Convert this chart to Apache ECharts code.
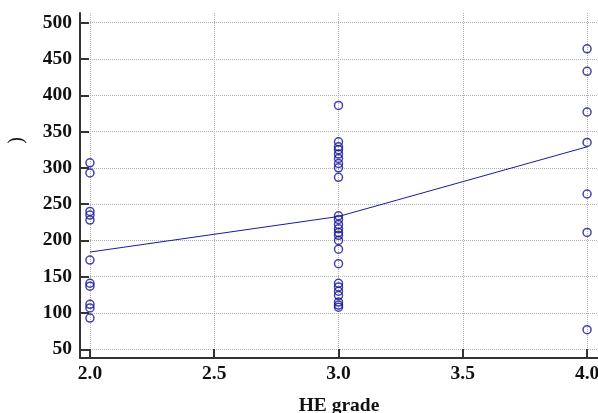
<!DOCTYPE html>
<html>
<head>
<meta charset="utf-8">
<script src="https://cdn.jsdelivr.net/npm/echarts@6/dist/echarts.min.js"></script>
<style>html,body{margin:0;padding:0;background:#fff;}#c{width:598px;height:413px;}</style>
</head>
<body>
<div id="c"></div>
<script>
var xTicks = [2.0, 2.5, 3.0, 3.5, 4.0];
var yTicks = [50, 100, 150, 200, 250, 300, 350, 400, 450, 500];
var grade2 = [307, 293, 240, 235, 228, 173, 141, 137, 112, 107, 93];
var grade3 = [386, 336, 329, 325, 319, 313, 306, 300, 287, 234, 229, 222, 216, 211, 207, 200, 188, 168, 141, 136, 130, 124, 115, 111, 108];
var grade4 = [464, 433, 377, 335, 264, 211, 77];
var lineX = [2.0, 3.0, 4.0];
var lineY = [184, 233, 329];
var yName = ')';

var pts = [];
grade2.forEach(function(v){ pts.push([2.0, v]); });
grade3.forEach(function(v){ pts.push([3.0, v]); });
grade4.forEach(function(v){ pts.push([4.0, v]); });
var lineData = lineX.map(function(x, i){ return [x, lineY[i]]; });

var font = '"Liberation Serif", "Times New Roman", serif';
var chart = echarts.init(document.getElementById('c'));
chart.setOption({
  animation: false,
  grid: { left: 80, right: 0, top: 13, bottom: 55, containLabel: false, outerBoundsMode: 'none' },
  xAxis: {
    type: 'value', min: 1.96, max: 4.044,
    name: 'HE grade', nameLocation: 'middle', nameGap: 38,
    nameTextStyle: { fontFamily: font, fontWeight: 'bold', fontSize: 19.5, color: '#111' },
    axisLine: { show: true, onZero: false, lineStyle: { color: '#333', width: 2 } },
    axisTick: { show: true, inside: true, length: 9, customValues: xTicks, lineStyle: { color: '#333', width: 2 } },
    axisLabel: { customValues: xTicks, fontFamily: font, fontWeight: 'bold', fontSize: 19.5, color: '#111', margin: 6,
      formatter: function(v){ return v.toFixed(1); } },
    splitLine: { show: true, lineStyle: { color: '#b0b0b0', type: [1, 1], width: 1 } }
  },
  yAxis: {
    type: 'value', min: 38, max: 513.4,
    name: yName, nameLocation: 'middle', nameRotate: 90, nameGap: 53,
    nameTextStyle: { fontFamily: font, fontSize: 20, color: '#111', padding: [0, 0, 0, 90] },
    axisLine: { show: true, onZero: false, lineStyle: { color: '#333', width: 2 } },
    axisTick: { show: true, inside: true, length: 9, customValues: yTicks, lineStyle: { color: '#333', width: 2 } },
    axisLabel: { customValues: yTicks, fontFamily: font, fontWeight: 'bold', fontSize: 19.5, color: '#111', margin: 8 },
    splitLine: { show: true, lineStyle: { color: '#b0b0b0', type: [1, 1], width: 1 } }
  },
  series: [
    { type: 'line', data: lineData, symbol: 'none', lineStyle: { color: '#1a1a9a', width: 1 }, z: 3 },
    { type: 'scatter', data: pts, symbol: 'circle', symbolSize: 8,
      itemStyle: { color: 'rgba(255,255,255,0)', borderColor: '#14149a', borderWidth: 1.5 }, z: 4 }
  ]
});
</script>
</body>
</html>
